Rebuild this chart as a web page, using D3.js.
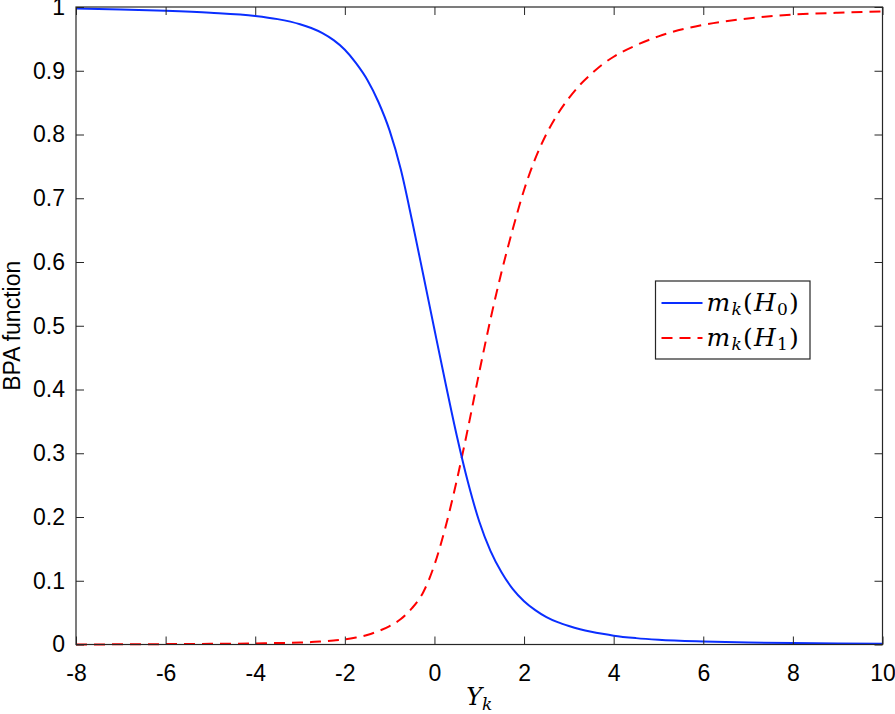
<!DOCTYPE html>
<html>
<head>
<meta charset="utf-8">
<script src="https://cdn.jsdelivr.net/npm/d3@7"></script>
<style>
  body { margin: 0; background: #fff; }
  svg { display: block; }
</style>
</head>
<body>
<script>
// values
var xs = [-8, -7, -6, -5, -4, -3.5, -3, -2.75, -2.5, -2.25, -2, -1.75, -1.5, -1.25, -1, -0.75, -0.5, -0.25,
          0, 0.25, 0.5, 0.75, 1, 1.25, 1.5, 1.75, 2, 2.25, 2.5, 2.75, 3, 3.25, 3.5, 3.75, 4, 4.5, 5, 6, 7, 8, 9, 10];

var mH0 = [0.9975, 0.996, 0.994, 0.991, 0.986, 0.981, 0.973, 0.967, 0.959, 0.948, 0.933, 0.912, 0.886, 0.851, 0.806, 0.745, 0.665, 0.580,
           0.494, 0.409, 0.327, 0.254, 0.193, 0.147, 0.113, 0.087, 0.068, 0.054, 0.043, 0.035, 0.029, 0.024, 0.020, 0.0167, 0.0138, 0.010, 0.0075, 0.0048, 0.0032, 0.0022, 0.0016, 0.0012];

var mH1 = [0, 0.0003, 0.0006, 0.001, 0.0017, 0.0023, 0.003, 0.0038, 0.005, 0.0063, 0.008, 0.011, 0.015, 0.021, 0.029, 0.040, 0.057, 0.082,
           0.125, 0.185, 0.258, 0.340, 0.427, 0.510, 0.585, 0.652, 0.713, 0.762, 0.801, 0.832, 0.857, 0.878, 0.895, 0.910, 0.922, 0.940, 0.954, 0.972, 0.982, 0.988, 0.991, 0.993];

var xTicks = [-8, -6, -4, -2, 0, 2, 4, 6, 8, 10];
var yTicks = [0, 0.1, 0.2, 0.3, 0.4, 0.5, 0.6, 0.7, 0.8, 0.9, 1];

var width = 895, height = 714;
var plot = { left: 76, right: 882.5, top: 7, bottom: 644.5 };

var svg = d3.select("body")
    .append("svg")
    .attr("width", width)
    .attr("height", height);

var x = d3.scaleLinear().domain([-8, 10]).range([plot.left, plot.right]);
var y = d3.scaleLinear().domain([0, 1]).range([plot.bottom, plot.top]);

var tickFont = "'Liberation Sans', Arial, sans-serif";
var tickLen = 8;

// matlab style labels: plain hyphen, no trailing zeros
var fmt = d => String(+d.toFixed(1));

// axes with inward ticks (box on all four sides)
var bottomAxis = d3.axisBottom(x).tickValues(xTicks).tickSizeInner(-tickLen).tickSizeOuter(0)
    .tickPadding(20).tickFormat(fmt);
var topAxis = d3.axisTop(x).tickValues(xTicks).tickSizeInner(-tickLen).tickSizeOuter(0).tickFormat("");
var leftAxis = d3.axisLeft(y).tickValues(yTicks).tickSizeInner(-tickLen).tickSizeOuter(0)
    .tickPadding(11).tickFormat(fmt);
var rightAxis = d3.axisRight(y).tickValues(yTicks).tickSizeInner(-tickLen).tickSizeOuter(0).tickFormat("");

function styleAxis(g) {
    g.select(".domain").remove();
    g.selectAll(".tick line").attr("stroke", "#262626").attr("stroke-width", 1);
    g.selectAll("text")
        .attr("fill", "#000")
        .style("font-family", tickFont)
        .style("font-size", "23px");
}

// lines
var line = d3.line()
    .x((d, i) => x(xs[i]))
    .y(d => y(d))
    .curve(d3.curveMonotoneX);

svg.append("path")
    .datum(mH1)
    .attr("d", line)
    .attr("fill", "none")
    .attr("stroke", "#ff0000")
    .attr("stroke-width", 2)
    .attr("stroke-dasharray", "11,7");

svg.append("path")
    .datum(mH0)
    .attr("d", line)
    .attr("fill", "none")
    .attr("stroke", "#0a2eff")
    .attr("stroke-width", 2);

svg.append("g").attr("transform", `translate(0,${plot.bottom})`).call(bottomAxis).call(styleAxis);
svg.append("g").attr("transform", `translate(0,${plot.top})`).call(topAxis).call(styleAxis);
svg.append("g").attr("transform", `translate(${plot.left},0)`).call(leftAxis).call(styleAxis);
svg.append("g").attr("transform", `translate(${plot.right},0)`).call(rightAxis).call(styleAxis);

// box
svg.append("rect")
    .attr("x", plot.left).attr("y", plot.top)
    .attr("width", plot.right - plot.left).attr("height", plot.bottom - plot.top)
    .attr("fill", "none").attr("stroke", "#262626").attr("stroke-width", 1.2);

// axis titles
svg.append("text")
    .attr("transform", `translate(20,${(plot.top + plot.bottom) / 2}) rotate(-90)`)
    .attr("text-anchor", "middle")
    .style("font-family", tickFont)
    .style("font-size", "23px")
    .text("BPA function");

var mathFont = "'DejaVu Serif', 'Liberation Serif', serif";

var xl = svg.append("text")
    .attr("x", (plot.left + plot.right) / 2)
    .attr("y", 705)
    .attr("text-anchor", "middle")
    .style("font-family", mathFont)
    .style("font-size", "24px");
xl.append("tspan").style("font-style", "italic").text("Y");
xl.append("tspan").style("font-style", "italic").style("font-size", "17px").attr("dy", 5).text("k");

// legend
var legend = svg.append("g").attr("transform", "translate(655.5,281)");
legend.append("rect")
    .attr("width", 154.5).attr("height", 78)
    .attr("fill", "#fff").attr("stroke", "#262626").attr("stroke-width", 1.2);

var entries = [
    { sub: "0", color: "#0a2eff", dash: null },
    { sub: "1", color: "#ff0000", dash: "11,7" }
];

entries.forEach(function (e, i) {
    var cy = 22 + i * 35;
    legend.append("line")
        .attr("x1", 6).attr("x2", 47).attr("y1", cy).attr("y2", cy)
        .attr("stroke", e.color).attr("stroke-width", 2)
        .attr("stroke-dasharray", e.dash);
    var t = legend.append("text")
        .attr("x", 51).attr("y", cy + 8)
        .style("font-family", mathFont)
        .style("font-size", "25px")
        .style("letter-spacing", "1.2px");
    t.append("tspan").style("font-style", "italic").text("m");
    t.append("tspan").style("font-style", "italic").style("font-size", "17px").attr("dy", 4).text("k");
    t.append("tspan").attr("dy", -4).text("(");
    t.append("tspan").style("font-style", "italic").text("H");
    t.append("tspan").style("font-size", "17px").attr("dy", 4).text(e.sub);
    t.append("tspan").attr("dy", -4).text(")");
});
</script>
</body>
</html>
